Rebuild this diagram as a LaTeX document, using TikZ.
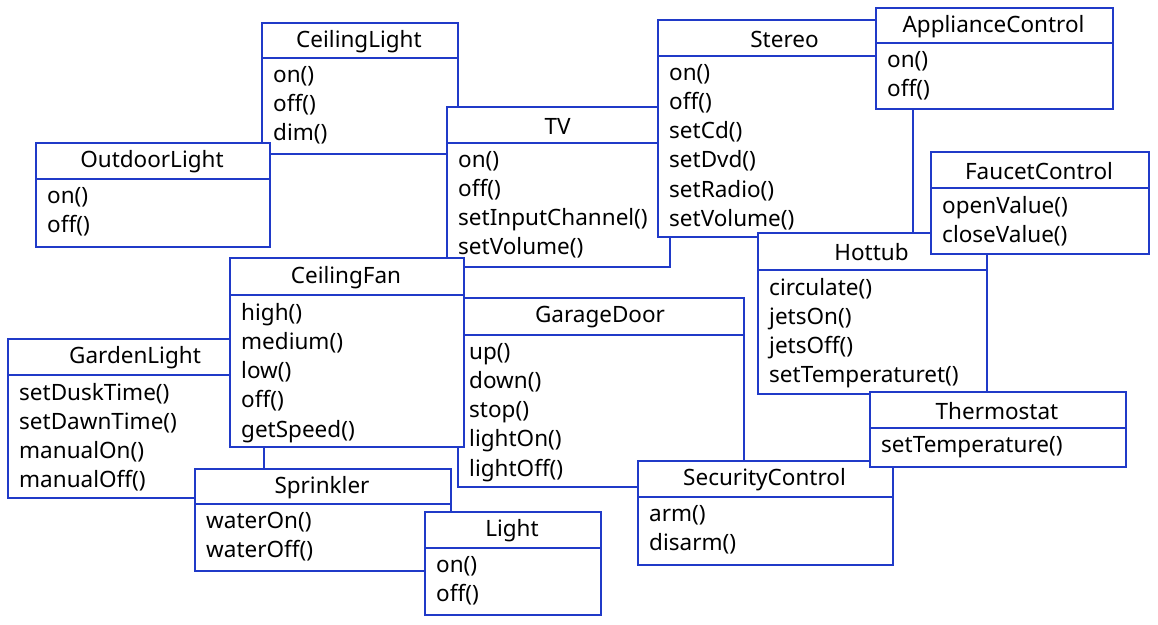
\documentclass[tikz,border=0pt]{standalone}
\usepackage{fontspec}
\setmainfont{Noto Sans}
\definecolor{umlblue}{RGB}{32,58,200}
\tikzset{
  boxsty/.style={draw=umlblue, fill=white, line width=2.2pt, rectangle, inner sep=0pt},
  divsty/.style={draw=umlblue, line width=2.2pt},
  titlesty/.style={font=\fontsize{22.5}{29.2}\selectfont, inner sep=0pt},
  methsty/.style={font=\fontsize{22.5}{29.2}\selectfont, align=left, inner sep=0pt}
}
% #1 name, #2 x1, #3 y1, #4 x2, #5 y2, #6 ydiv, #7 title, #8 methods
\newcommand{\mkbox}[8]{%
  \node[boxsty, minimum width={(#4-#2)*1pt}, minimum height={(#5-#3)*1pt}, anchor=north west] (#1) at (#2,#3) {};
  \draw[divsty] (#1.west |- 0,#6) -- (#1.east |- 0,#6);
  \node[titlesty] (#1-t) at ({(#2+#4)/2},{(#3+#6)/2+1.5}) {#7};
  \node[methsty, anchor=north west] (#1-m) at ({#2+12},{#6+8}) {#8};
}
\begin{document}
\begin{tikzpicture}[x=1pt,y=-1pt]
\useasboundingbox (0,0) rectangle (1158,624);
\mkbox{ceilinglight}{261}{22}{457}{153}{58}{CeilingLight}{on()\\off()\\dim()}
\mkbox{outdoorlight}{35}{142}{269}{246}{179}{OutdoorLight}{on()\\off()}
\mkbox{tv}{446}{106}{669}{266}{143}{TV}{on()\\off()\\setInputChannel()\\setVolume()}
\mkbox{stereo}{657}{19}{912}{236}{56}{Stereo}{on()\\off()\\setCd()\\setDvd()\\setRadio()\\setVolume()}
\mkbox{appliance}{875}{7}{1112}{108}{43}{ApplianceControl}{on()\\off()}
\mkbox{hottub}{757}{232}{986}{393}{270}{Hottub}{circulate()\\jetsOn()\\jetsOff()\\setTemperaturet()}
\mkbox{faucet}{930}{151}{1148}{253}{188}{FaucetControl}{openValue()\\closeValue()}
\mkbox{garage}{457}{297}{743}{486}{335}{GarageDoor}{up()\\down()\\stop()\\lightOn()\\lightOff()}
\mkbox{security}{637}{460}{892}{564}{497}{SecurityControl}{arm()\\disarm()}
\mkbox{thermostat}{869}{391}{1125}{466}{428}{Thermostat}{setTemperature()}
\mkbox{gardenlight}{7}{338}{263}{497}{375}{GardenLight}{setDuskTime()\\setDawnTime()\\manualOn()\\manualOff()}
\mkbox{ceilingfan}{229}{257}{463}{446}{295}{CeilingFan}{high()\\medium()\\low()\\off()\\getSpeed()}
\mkbox{sprinkler}{194}{468}{450}{570}{504}{Sprinkler}{waterOn()\\waterOff()}
\mkbox{light}{424}{511}{600}{614}{548}{Light}{on()\\off()}
\end{tikzpicture}
\end{document}
